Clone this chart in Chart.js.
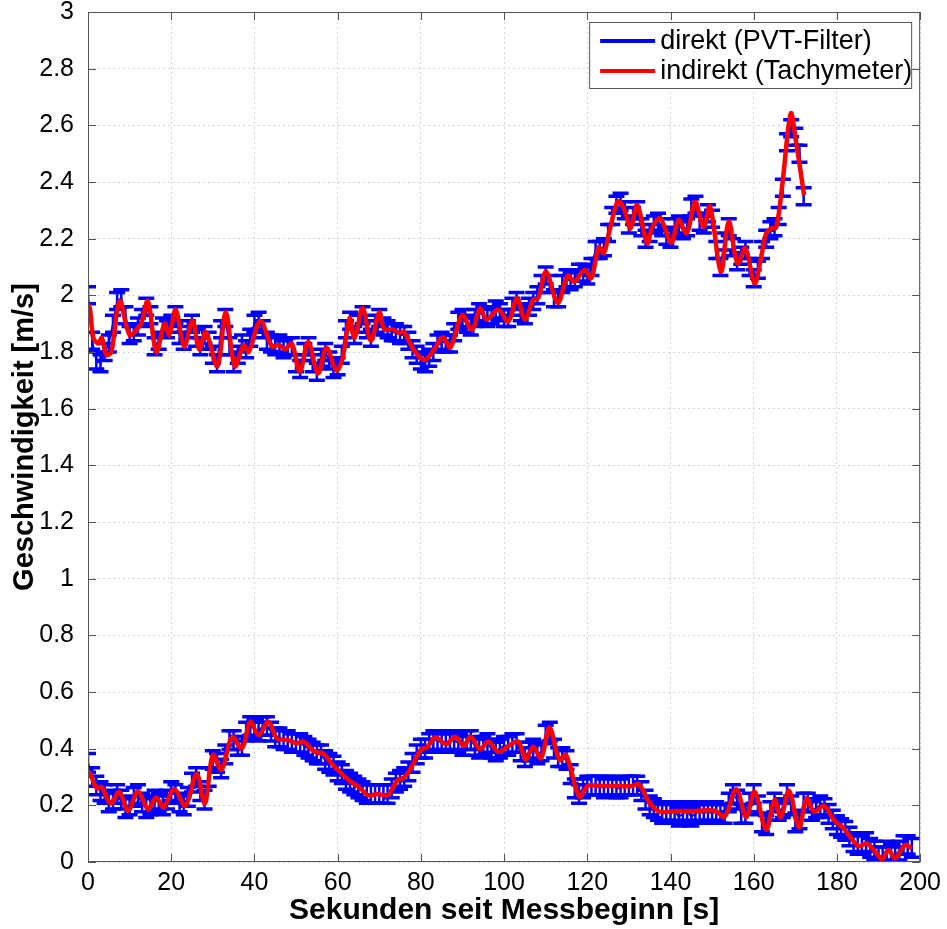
<!DOCTYPE html>
<html>
<head>
<meta charset="utf-8">
<script src="https://cdn.jsdelivr.net/npm/chart.js@4.4.1/dist/chart.umd.min.js"></script>
<style>
    html, body { margin: 0; padding: 0; background: #fff; }
</style>
</head>
<body>
<canvas id="speed" width="947" height="929"></canvas>
<script>
// sample times [s] and speeds [m/s]
const RED_UP_T = [0, 0.5, 1.3, 2.5, 3.3, 4.4, 5.6, 7.6, 10, 12, 12.8, 14.4, 16.4, 18.4, 19.5, 21.1, 23.1, 25.1, 26.7, 28.3,
    31.1, 33.1, 35.3, 37.4, 38.6, 41.4, 44.2, 45.8, 47.4, 49, 50.9, 52.9, 55.3, 57.3, 59.7, 61.2, 62.9, 64.1, 66, 68,
    70, 71.2, 73.2, 74.8, 76, 78.3, 80.9, 83.1, 85.3, 87.1, 89.9, 92.3, 94.2, 95.8, 98.6, 101, 103.1, 105, 107, 108.2,
    110.1, 112.9, 115.3, 116.9, 119.3, 120.9, 122, 122.8, 124, 125.2, 127.2, 128, 129.2, 130.4, 132, 134.4, 135.6, 137.5, 140.2, 141.9,
    143.9, 145.9, 147.9, 149.5, 152.1, 154, 156.1, 158, 160.2, 161.8, 163, 164.2, 165.4, 166.9, 168.9, 170.1, 172.1];
const RED_UP_V = [1.97, 1.95, 1.85, 1.83, 1.85, 1.79, 1.80, 1.98, 1.86, 1.885, 1.90, 1.98, 1.80, 1.90, 1.86, 1.95, 1.82, 1.91, 1.81, 1.87,
    1.75, 1.94, 1.75, 1.825, 1.80, 1.91, 1.82, 1.825, 1.81, 1.83, 1.73, 1.835, 1.725, 1.815, 1.735, 1.78, 1.92, 1.85, 1.955, 1.84,
    1.94, 1.88, 1.88, 1.868, 1.87, 1.807, 1.772, 1.807, 1.852, 1.816, 1.93, 1.878, 1.954, 1.915, 1.95, 1.907, 1.99, 1.915, 1.984, 1.99,
    2.083, 1.974, 2.07, 2.048, 2.09, 2.06, 2.125, 2.17, 2.15, 2.22, 2.33, 2.328, 2.29, 2.236, 2.319, 2.184, 2.24, 2.272, 2.186, 2.266,
    2.219, 2.33, 2.242, 2.313, 2.083, 2.26, 2.113, 2.166, 2.042, 2.136, 2.219, 2.236, 2.24, 2.395, 2.642, 2.548, 2.354];

const RED_LO_T = [0, 0.5, 2.1, 3.3, 5.4, 7.5, 9.6, 12, 14.4, 16.4, 18.1, 20.7, 23.4, 26.1, 28.1, 30, 32.1, 34.6, 37, 39,
    41, 43.4, 45.4, 48.2, 50.1, 51.8, 54.5, 56.4, 59.3, 63.2, 65.2, 67.2, 69.6, 72, 74.4, 76, 77.9, 79.9, 81.5, 83.5,
    86.1, 88.3, 90.3, 92, 94.2, 96.2, 98.6, 101, 103.4, 105.2, 107, 108.9, 110.9, 113.3, 114.9, 118.1, 120.1, 122.8, 127.6, 130.8,
    132.4, 134.8, 137.3, 141.1, 145.9, 150.7, 153, 155.8, 158.2, 160.2, 163, 165, 166.5, 168.5, 170.9, 172.7, 174.5, 176.9, 179.3, 181.6,
    185.2, 187.2, 189.2, 190.8, 192.4, 194, 196.4, 198];
const RED_LO_V = [0.32, 0.313, 0.26, 0.265, 0.207, 0.248, 0.181, 0.25, 0.186, 0.228, 0.193, 0.257, 0.198, 0.311, 0.207, 0.378, 0.325, 0.442, 0.401, 0.495,
    0.448, 0.495, 0.437, 0.43, 0.419, 0.425, 0.389, 0.384, 0.336, 0.283, 0.265, 0.236, 0.24, 0.236, 0.289, 0.298, 0.339, 0.395, 0.405, 0.44,
    0.416, 0.442, 0.409, 0.442, 0.398, 0.425, 0.389, 0.409, 0.425, 0.362, 0.407, 0.366, 0.475, 0.36, 0.378, 0.23, 0.269, 0.268, 0.268, 0.268,
    0.275, 0.213, 0.178, 0.18, 0.18, 0.181, 0.16, 0.257, 0.158, 0.248, 0.115, 0.219, 0.158, 0.252, 0.122, 0.225, 0.178, 0.198, 0.148, 0.119,
    0.056, 0.066, 0.036, 0.01, 0.042, 0.013, 0.06, 0.048];

// PVT filter output, one value per second (t = index)
const BLUE_UP_V = [
    2.00, 1.84, 1.77, 1.76, 1.80, 1.83, 1.90, 1.98, 1.99, 1.93,
    1.86, 1.87, 1.89, 1.92, 1.96, 1.93, 1.82, 1.84, 1.89, 1.88,
    1.90, 1.93, 1.86, 1.84, 1.88, 1.90, 1.85, 1.82, 1.86, 1.84,
    1.79, 1.76, 1.88, 1.92, 1.82, 1.76, 1.79, 1.83, 1.81, 1.85,
    1.90, 1.91, 1.88, 1.84, 1.83, 1.82, 1.83, 1.81, 1.82, 1.82,
    1.76, 1.74, 1.80, 1.82, 1.76, 1.73, 1.78, 1.80, 1.77, 1.74,
    1.75, 1.79, 1.88, 1.91, 1.86, 1.90, 1.93, 1.88, 1.85, 1.90,
    1.92, 1.89, 1.88, 1.87, 1.87, 1.86, 1.86, 1.84, 1.81, 1.79,
    1.77, 1.76, 1.78, 1.80, 1.83, 1.84, 1.83, 1.83, 1.87, 1.91,
    1.92, 1.90, 1.89, 1.92, 1.94, 1.93, 1.92, 1.93, 1.95, 1.94,
    1.92, 1.92, 1.96, 1.98, 1.94, 1.93, 1.96, 1.98, 2.00, 2.04,
    2.07, 2.04, 1.99, 1.99, 2.04, 2.06, 2.05, 2.06, 2.08, 2.08,
    2.07, 2.10, 2.16, 2.16, 2.17, 2.22, 2.28, 2.32, 2.33, 2.30,
    2.25, 2.28, 2.30, 2.24, 2.20, 2.22, 2.25, 2.26, 2.24, 2.21,
    2.20, 2.24, 2.25, 2.23, 2.24, 2.31, 2.32, 2.26, 2.25, 2.29,
    2.27, 2.16, 2.10, 2.19, 2.24, 2.17, 2.12, 2.14, 2.16, 2.10,
    2.06, 2.09, 2.16, 2.20, 2.23, 2.24, 2.28, 2.38, 2.54, 2.59,
    2.56, 2.50, 2.35];
const BLUE_LO_V = [
    0.35, 0.30, 0.27, 0.25, 0.24, 0.21, 0.22, 0.24, 0.22, 0.19,
    0.20, 0.23, 0.24, 0.21, 0.19, 0.20, 0.22, 0.21, 0.20, 0.22,
    0.25, 0.24, 0.21, 0.20, 0.23, 0.28, 0.30, 0.25, 0.22, 0.30,
    0.36, 0.35, 0.33, 0.38, 0.43, 0.43, 0.41, 0.41, 0.46, 0.48,
    0.47, 0.46, 0.48, 0.48, 0.46, 0.44, 0.44, 0.43, 0.43, 0.42,
    0.42, 0.42, 0.41, 0.40, 0.39, 0.38, 0.38, 0.36, 0.35, 0.34,
    0.32, 0.31, 0.29, 0.28, 0.27, 0.26, 0.25, 0.24, 0.24, 0.24,
    0.24, 0.24, 0.24, 0.26, 0.28, 0.29, 0.30, 0.32, 0.35, 0.38,
    0.40, 0.40, 0.42, 0.43, 0.43, 0.42, 0.42, 0.43, 0.43, 0.42,
    0.41, 0.43, 0.43, 0.41, 0.40, 0.41, 0.42, 0.40, 0.39, 0.40,
    0.41, 0.41, 0.42, 0.42, 0.39, 0.37, 0.39, 0.40, 0.38, 0.39,
    0.45, 0.46, 0.40, 0.37, 0.37, 0.36, 0.31, 0.26, 0.24, 0.26,
    0.27, 0.27, 0.27, 0.27, 0.26, 0.27, 0.27, 0.26, 0.26, 0.27,
    0.27, 0.27, 0.27, 0.25, 0.22, 0.20, 0.19, 0.18, 0.17, 0.18,
    0.17, 0.18, 0.16, 0.17, 0.18, 0.16, 0.17, 0.18, 0.17, 0.18,
    0.17, 0.18, 0.17, 0.17, 0.21, 0.24, 0.22, 0.17, 0.17, 0.21,
    0.24, 0.20, 0.14, 0.13, 0.18, 0.21, 0.18, 0.19, 0.24, 0.20,
    0.14, 0.15, 0.21, 0.21, 0.18, 0.19, 0.20, 0.19, 0.17, 0.15,
    0.13, 0.12, 0.11, 0.09, 0.07, 0.06, 0.06, 0.07, 0.05, 0.04,
    0.02, 0.02, 0.04, 0.03, 0.02, 0.04, 0.06, 0.06, 0.05];

// standard deviation shown as error bars [m/s]
const ERR_UP = 0.03;
const ERR_LO = 0.033;

const LABEL_DIRECT = 'direkt (PVT-Filter)';
const LABEL_INDIRECT = 'indirekt (Tachymeter)';

const FONT = "'Liberation Sans', Arial, sans-serif";
const BLUE = '#0000ff';
const RED = '#ff0000';

function toPoints(times, values) {
    return values.map((v, i) => ({ x: times[i], y: v }));
}
function perSecond(values) {
    return values.map((v, i) => ({ x: i, y: v }));
}

// vertical error bars with caps, drawn right after the blue line
const errorBars = {
    id: 'errorBars',
    afterDatasetDraw(chart, args) {
        const ds = chart.data.datasets[args.index];
        if (!ds.errorBar) return;
        const { ctx, chartArea, scales: { x, y } } = chart;
        ctx.save();
        ctx.beginPath();
        ctx.rect(chartArea.left, chartArea.top, chartArea.right - chartArea.left, chartArea.bottom - chartArea.top);
        ctx.clip();
        ctx.strokeStyle = ds.borderColor;
        ds.data.forEach(p => {
            const px = x.getPixelForValue(p.x);
            const y1 = y.getPixelForValue(p.y + ds.errorBar);
            const y2 = y.getPixelForValue(p.y - ds.errorBar);
            ctx.lineWidth = 2.5;
            ctx.beginPath();
            ctx.moveTo(px, y1);
            ctx.lineTo(px, y2);
            ctx.stroke();
            ctx.lineWidth = 3.5;
            ctx.beginPath();
            ctx.moveTo(px - 8, y1);
            ctx.lineTo(px + 8, y1);
            ctx.moveTo(px - 8, y2);
            ctx.lineTo(px + 8, y2);
            ctx.stroke();
        });
        ctx.restore();
    }
};

// MATLAB style box with inward ticks, plus the legend inside the plot
const axesBox = {
    id: 'axesBox',
    afterDraw(chart) {
        const { ctx, chartArea: a, scales: { x, y } } = chart;
        ctx.save();
        ctx.strokeStyle = '#555555';
        ctx.lineWidth = 1;
        ctx.strokeRect(a.left + 0.5, a.top + 0.5, a.right - a.left - 1, a.bottom - a.top - 1);
        ctx.beginPath();
        x.ticks.forEach(t => {
            const px = Math.round(x.getPixelForValue(t.value)) + 0.5;
            ctx.moveTo(px, a.bottom); ctx.lineTo(px, a.bottom - 8);
            ctx.moveTo(px, a.top); ctx.lineTo(px, a.top + 8);
        });
        y.ticks.forEach(t => {
            const py = Math.round(y.getPixelForValue(t.value)) + 0.5;
            ctx.moveTo(a.left, py); ctx.lineTo(a.left + 8, py);
            ctx.moveTo(a.right, py); ctx.lineTo(a.right - 8, py);
        });
        ctx.stroke();

        // legend
        const bx = a.right - 331, by = a.top + 10, bw = 322, bh = 66;
        ctx.fillStyle = '#ffffff';
        ctx.fillRect(bx, by, bw, bh);
        ctx.strokeStyle = '#555555';
        ctx.strokeRect(bx + 0.5, by + 0.5, bw, bh);
        const items = [[LABEL_DIRECT, BLUE], [LABEL_INDIRECT, RED]];
        ctx.font = '27px ' + FONT;
        ctx.textBaseline = 'middle';
        ctx.textAlign = 'left';
        items.forEach(([label, color], i) => {
            const ly = by + 19 + i * 30;
            ctx.strokeStyle = color;
            ctx.lineWidth = 4;
            ctx.beginPath();
            ctx.moveTo(bx + 11, ly);
            ctx.lineTo(bx + 66, ly);
            ctx.stroke();
            ctx.fillStyle = '#000';
            ctx.fillText(label, bx + 71, ly + 1);
        });
        ctx.restore();
    }
};

const ctx = document.getElementById('speed').getContext('2d');
new Chart(ctx, {
    type: 'line',
    data: {
        datasets: [
            {
                label: LABEL_DIRECT,
                data: perSecond(BLUE_UP_V),
                errorBar: ERR_UP,
                borderColor: BLUE,
                borderWidth: 2,
                pointRadius: 0,
                fill: false,
                order: 2
            },
            {
                label: LABEL_DIRECT,
                data: perSecond(BLUE_LO_V),
                errorBar: ERR_LO,
                borderColor: BLUE,
                borderWidth: 2,
                pointRadius: 0,
                fill: false,
                order: 2
            },
            {
                label: LABEL_INDIRECT,
                data: toPoints(RED_UP_T, RED_UP_V),
                borderColor: RED,
                borderWidth: 4.5,
                pointRadius: 0,
                tension: 0.35,
                fill: false,
                order: 1
            },
            {
                label: LABEL_INDIRECT,
                data: toPoints(RED_LO_T, RED_LO_V),
                borderColor: RED,
                borderWidth: 4.5,
                pointRadius: 0,
                tension: 0.35,
                fill: false,
                order: 1
            }
        ]
    },
    options: {
        responsive: false,
        animation: false,
        layout: { padding: { left: 0, right: 20, top: 12, bottom: 0 } },
        scales: {
            x: {
                type: 'linear',
                min: 0,
                max: 200,
                ticks: { stepSize: 20, color: '#000', padding: 6, maxRotation: 0, font: { family: FONT, size: 25 } },
                grid: { color: '#d6d6d6', lineWidth: 1, drawTicks: false },
                border: { display: false, dash: [2, 3] },
                title: {
                    display: true,
                    text: 'Sekunden seit Messbeginn [s]',
                    color: '#000',
                    padding: 0,
                    font: { family: FONT, size: 30, weight: 'bold' }
                },
                afterFit(scale) { scale.height = 67; }
            },
            y: {
                min: 0,
                max: 3,
                ticks: {
                    stepSize: 0.2,
                    color: '#000',
                    padding: 14,
                    font: { family: FONT, size: 25 },
                    callback: v => String(Number(v.toFixed(1)))
                },
                grid: { color: '#d6d6d6', lineWidth: 1, drawTicks: false },
                border: { display: false, dash: [2, 3] },
                title: {
                    display: true,
                    text: 'Geschwindigkeit [m/s]',
                    color: '#000',
                    padding: { top: 8, bottom: 0 },
                    font: { family: FONT, size: 29, weight: 'bold' }
                },
                afterFit(scale) {
                    scale.width = 88;
                    scale.paddingTop = 0;
                    scale.paddingBottom = 0;
                }
            }
        },
        plugins: {
            legend: { display: false },
            tooltip: { enabled: false }
        }
    },
    plugins: [errorBars, axesBox]
});
</script>
</body>
</html>
